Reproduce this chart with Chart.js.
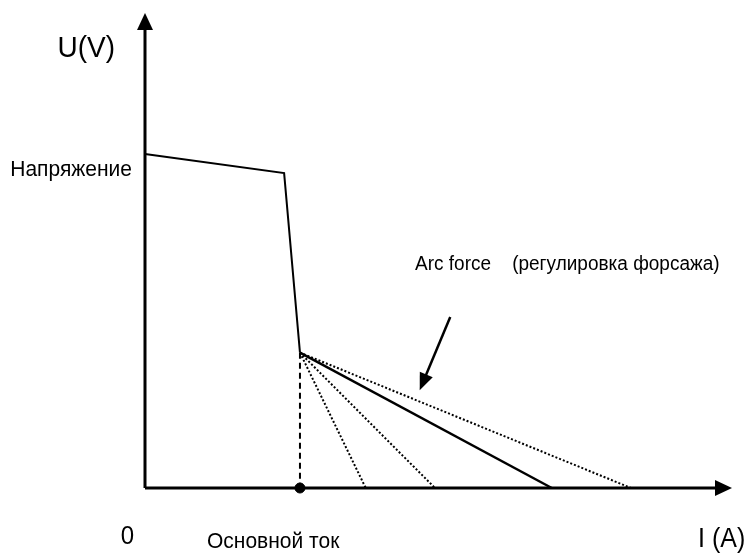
<!DOCTYPE html>
<html>
<head>
<meta charset="utf-8">
<script src="https://cdn.jsdelivr.net/npm/chart.js@4"></script>
<style>
  html, body { margin: 0; padding: 0; background: #fff; }
  #wrap { width: 752px; height: 554px; }
</style>
</head>
<body>
<div id="wrap"><canvas id="chart"></canvas></div>
<script>
// welding source characteristic, I and U in relative units (0..100)
const curveI = [0, 23.7, 26.4];
const curveU = [70.3, 66.3, 28.5];
const baseCurrent = 26.4;          // "Основной ток"
const kneeU = 28.5;
const arcForceSolidEnd = 69.3;     // chosen arc force setting
const arcForceDottedEnds = [37.6, 49.4, 82.8];
const pointerFrom = [52.0, 36.0];
const pointerTo = [46.8, 20.6];
const axisMaxI = 100;
const axisMaxU = 100;

const labelFont = "'Liberation Sans', Arial, sans-serif";
const stretchY = 1.08;

function text(ctx, str, x, y, size, align) {
  ctx.save();
  ctx.translate(x, y);
  ctx.scale(1, stretchY);
  ctx.font = size + "px " + labelFont;
  ctx.textAlign = align || "left";
  ctx.textBaseline = "alphabetic";
  ctx.fillStyle = "#000";
  ctx.fillText(str, 0, 0);
  ctx.restore();
}

function arrowHead(ctx, x1, y1, x2, y2, len, half) {
  const a = Math.atan2(y2 - y1, x2 - x1);
  ctx.beginPath();
  ctx.moveTo(x2, y2);
  ctx.lineTo(x2 - len * Math.cos(a) + half * Math.sin(a), y2 - len * Math.sin(a) - half * Math.cos(a));
  ctx.lineTo(x2 - len * Math.cos(a) - half * Math.sin(a), y2 - len * Math.sin(a) + half * Math.cos(a));
  ctx.closePath();
  ctx.fill();
}

const sketch = {
  id: "sketch",
  afterDatasetsDraw(chart) {
    const ctx = chart.ctx;
    const xs = chart.scales.x, ys = chart.scales.y;
    const x0 = xs.getPixelForValue(0), y0 = ys.getPixelForValue(0);
    const xEnd = xs.getPixelForValue(axisMaxI), yEnd = ys.getPixelForValue(axisMaxU);

    ctx.save();
    ctx.strokeStyle = "#000";
    ctx.fillStyle = "#000";
    ctx.lineWidth = 3;
    ctx.setLineDash([]);
    // axes
    ctx.beginPath();
    ctx.moveTo(x0, y0);
    ctx.lineTo(x0, yEnd + 12);
    ctx.moveTo(x0, y0);
    ctx.lineTo(xEnd - 12, y0);
    ctx.stroke();
    arrowHead(ctx, x0, y0, x0, yEnd, 17, 8);
    arrowHead(ctx, x0, y0, xEnd, y0, 17, 8);

    // arc force pointer
    const px1 = xs.getPixelForValue(pointerFrom[0]), py1 = ys.getPixelForValue(pointerFrom[1]);
    const px2 = xs.getPixelForValue(pointerTo[0]), py2 = ys.getPixelForValue(pointerTo[1]);
    ctx.lineWidth = 2.5;
    ctx.beginPath();
    ctx.moveTo(px1, py1);
    const a = Math.atan2(py2 - py1, px2 - px1);
    ctx.lineTo(px2 - 9 * Math.cos(a), py2 - 9 * Math.sin(a));
    ctx.stroke();
    arrowHead(ctx, px1, py1, px2, py2, 17, 7);

    // labels
    const ca = chart.chartArea;
    text(ctx, "U(V)", ca.left - 30, ca.top + 44, 28, "right");
    text(ctx, "Напряжение", ca.left - 13, ys.getPixelForValue(curveU[0]) + 22, 21, "right");
    text(ctx, "Arc force    (регулировка форсажа)", xs.getPixelForValue(46.0), ys.getPixelForValue(45.9), 19, "left");
    text(ctx, "0", ca.left - 11, ca.bottom + 56, 24, "right");
    text(ctx, "Основной ток", xs.getPixelForValue(baseCurrent) - 93, ca.bottom + 60, 21, "left");
    text(ctx, "I (A)", ca.right - 34, ca.bottom + 59, 25, "left");
    ctx.restore();
  }
};

const lineStyle = { showLine: true, borderColor: "#000", backgroundColor: "#000", pointRadius: 0, clip: false, fill: false };

const datasets = [
  Object.assign({}, lineStyle, {
    data: curveI.map((v, i) => ({ x: v, y: curveU[i] })),
    borderWidth: 2
  }),
  Object.assign({}, lineStyle, {
    data: [{ x: baseCurrent, y: kneeU }, { x: arcForceSolidEnd, y: 0 }],
    borderWidth: 2.5
  }),
  ...arcForceDottedEnds.map(end => Object.assign({}, lineStyle, {
    data: [{ x: baseCurrent, y: kneeU }, { x: end, y: 0 }],
    borderWidth: 2,
    borderDash: [2, 2]
  })),
  Object.assign({}, lineStyle, {
    data: [{ x: baseCurrent, y: kneeU }, { x: baseCurrent, y: 0 }],
    borderWidth: 2,
    borderDash: [6, 4]
  }),
  {
    data: [{ x: baseCurrent, y: 0 }],
    showLine: false,
    pointRadius: 5,
    pointBackgroundColor: "#000",
    pointBorderColor: "#000",
    clip: false
  }
];

new Chart(document.getElementById("chart"), {
  type: "scatter",
  data: { datasets },
  options: {
    responsive: true,
    maintainAspectRatio: false,
    animation: false,
    layout: { padding: { left: 145, right: 20, top: 13, bottom: 66 } },
    scales: {
      x: { type: "linear", min: 0, max: axisMaxI, display: false },
      y: { type: "linear", min: 0, max: axisMaxU, display: false }
    },
    plugins: { legend: { display: false }, tooltip: { enabled: false } }
  },
  plugins: [sketch]
});
</script>
</body>
</html>
